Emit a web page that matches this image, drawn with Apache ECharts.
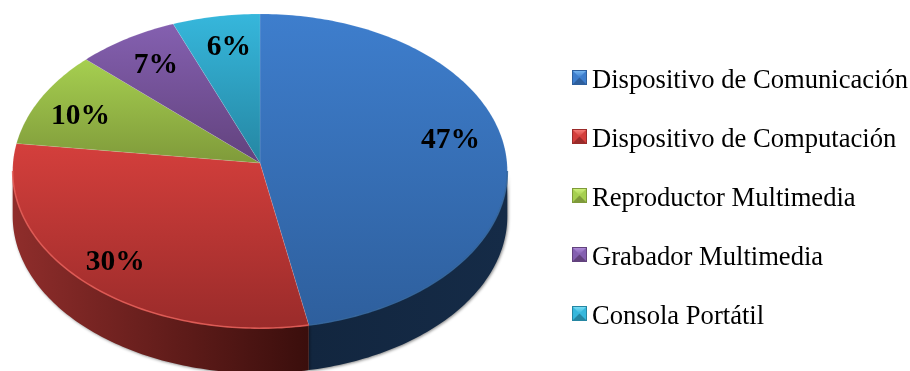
<!DOCTYPE html>
<html>
<head>
<meta charset="utf-8">
<style>html,body{margin:0;padding:0;background:#fff}#chart{width:910px;height:371px}</style>
<script src="https://cdn.jsdelivr.net/npm/echarts@6/dist/echarts.min.js"></script>
</head>
<body>
<div id="chart"></div>
<script>
// Device categories and their share of the total, in percent
const categories = ['Dispositivo de Comunicación', 'Dispositivo de Computación', 'Reproductor Multimedia', 'Grabador Multimedia', 'Consola Portátil'];
const shares = [47, 30, 10, 7, 6];

// Per-slice shading: top face gradient, wall gradient (left to right), front rim, swatch highlight
const faceLight = ['#3e7ecd', '#d43f3c', '#a6cf50', '#8460b0', '#36b7dc'];
const faceDark = ['#2e5f9d', '#9a2b2a', '#7f9a3a', '#62427d', '#2586a2'];
const wallLeft = ['#12263f', '#8f2d2b', '#6a8530', '#4a3060', '#1c6a80'];
const wallRight = ['#152b47', '#3a0e0c', '#6a8530', '#4a3060', '#1c6a80'];
const rimColor = ['#2f6299', '#e45a55', '#b8dc66', '#9474bd', '#55c6e4'];
const swatchBright = ['#74b4f0', '#f47a76', '#cdf07a', '#ad8ad8', '#78dcf4'];

// Label placement tweaks, in pixels, relative to the slice's mid-angle anchor
const labelNudge = [[-3, -11], [-7, 6], [-6, 5], [2, 1], [4, 1]];

// Projection of the tilted disc
const CX = 260, CY = 163, RX = 247, RY = 156.7, TILT = 0.0514, DEPTH = 45;
const ARC_STEP = Math.PI / 180;

function project(theta, reach) {
  const u = Math.sin(theta) * reach, v = -Math.cos(theta) * reach;
  const d = 1 - TILT * v;
  return [CX + RX * u / d, CY + RY * v / d];
}

function arcPoints(from, to) {
  const pts = [];
  const n = Math.max(2, Math.ceil((to - from) / ARC_STEP));
  for (let i = 0; i <= n; i++) pts.push(project(from + (to - from) * i / n, 1));
  return pts;
}

const total = shares.reduce((a, b) => a + b, 0);
const TAU = Math.PI * 2;
// Where the disc's outline turns back on itself; the wall only shows between these
const SIL_R = Math.acos(-TILT), SIL_L = TAU - SIL_R;

function renderSlice(index) {
  const before = shares.slice(0, index).reduce((a, b) => a + b, 0);
  const start = before / total * TAU;
  const end = (before + shares[index]) / total * TAU;
  const arc = arcPoints(start, end);
  const children = [];

  const wallFrom = Math.max(start, SIL_R), wallTo = Math.min(end, SIL_L);
  const hasWall = wallTo > wallFrom;
  if (hasWall) {
    const upper = arcPoints(wallFrom, wallTo);
    const lower = upper.map(p => [p[0], p[1] + DEPTH]).reverse();
    children.push({
      type: 'polygon',
      shape: { points: upper.concat(lower) },
      style: {
        fill: new echarts.graphic.LinearGradient(0, 0, 1, 0, [
          { offset: 0, color: wallLeft[index] },
          { offset: 1, color: wallRight[index] }
        ]),
        shadowColor: 'rgba(0,0,0,0.45)', shadowBlur: 3, shadowOffsetX: 1, shadowOffsetY: 1
      }
    });
  }

  children.push({
    type: 'polygon',
    shape: { points: [[CX, CY]].concat(arc) },
    style: {
      fill: new echarts.graphic.LinearGradient(0, 0, 0, 1, [
        { offset: 0, color: faceLight[index] },
        { offset: 1, color: faceDark[index] }
      ]),
      stroke: 'rgba(255,255,255,0.18)', lineWidth: 0.6
    }
  });

  // Soft highlight where the top face meets the wall
  if (hasWall) {
    children.push({
      type: 'polyline',
      shape: { points: arcPoints(wallFrom, wallTo) },
      style: { fill: null, stroke: rimColor[index], lineWidth: 1.6, opacity: 0.85 }
    });
  }

  const at = project((start + end) / 2, 0.79);
  children.push({
    type: 'text',
    z2: 10,
    style: {
      x: at[0] + labelNudge[index][0], y: at[1] + labelNudge[index][1], text: shares[index] + '%',
      fill: '#000', font: 'bold 29.5px "Liberation Serif", "Times New Roman", serif',
      align: 'center', verticalAlign: 'middle'
    }
  });
  return { type: 'group', children };
}

// Bevelled legend swatch, with clear space below so it sits above the text's centre line
function swatch(index) {
  const svg = "<svg xmlns='http://www.w3.org/2000/svg' width='15' height='23' viewBox='0 0 15 23'>" +
    "<defs><linearGradient id='g' x1='0' y1='0' x2='0' y2='1'>" +
    "<stop offset='0' stop-color='" + swatchBright[index] + "'/>" +
    "<stop offset='1' stop-color='" + faceLight[index] + "'/></linearGradient></defs>" +
    "<rect width='15' height='15' fill='" + faceDark[index] + "'/>" +
    "<rect x='1' y='1' width='13' height='13' fill='" + faceLight[index] + "'/>" +
    "<polygon points='1,14 14,14 7.5,7.5' fill='" + faceDark[index] + "'/>" +
    "<polygon points='1,1 14,1 7.5,7.5' fill='url(#g)'/>" +
    "</svg>";
  return 'image://data:image/svg+xml;charset=utf-8,' + encodeURIComponent(svg);
}

const chart = echarts.init(document.getElementById('chart'), null, { renderer: 'canvas' });
chart.setOption({
  animation: false,
  backgroundColor: '#fff',
  legend: {
    orient: 'vertical',
    left: 572,
    top: 68,
    padding: 0,
    itemWidth: 15,
    itemHeight: 23,
    itemGap: 32,
    selectedMode: false,
    textStyle: {
      fontFamily: '"Liberation Serif", "Times New Roman", serif',
      fontSize: 26.6, color: '#000', lineHeight: 25
    },
    data: categories.map((name, i) => ({ name, icon: swatch(i) }))
  },
  series: categories.map((name, i) => ({
    type: 'custom',
    name,
    coordinateSystem: 'none',
    itemStyle: { color: faceLight[i] },
    data: [[shares[i]]],
    renderItem: () => renderSlice(i)
  }))
});
</script>
</body>
</html>
